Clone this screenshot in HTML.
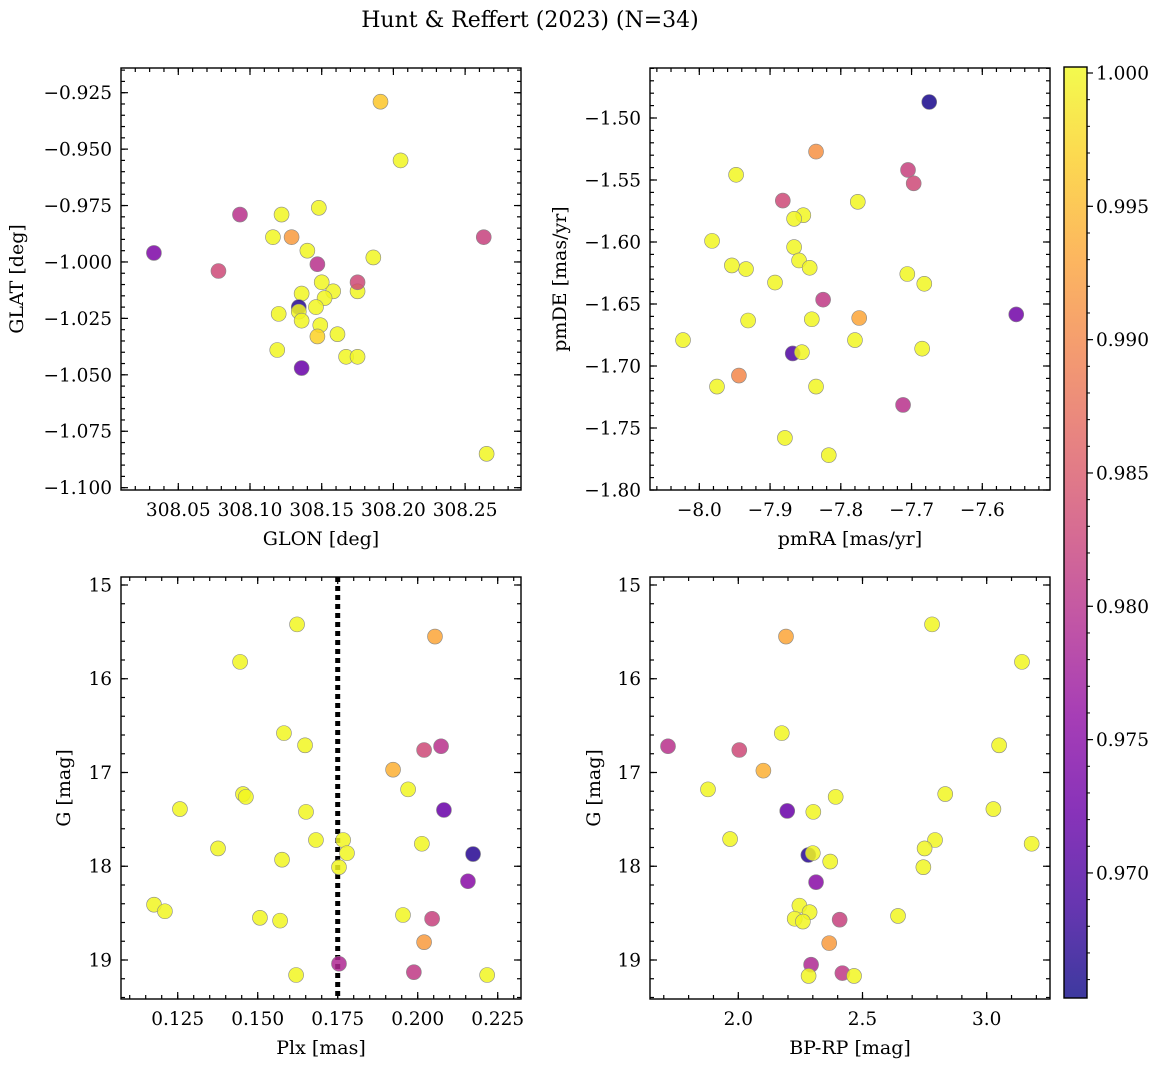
<!DOCTYPE html>
<html><head><meta charset="utf-8"><style>
html,body{margin:0;padding:0;background:#fff;}
svg{display:block;font-family:"DejaVu Serif","Liberation Serif",serif;}
</style></head><body>
<svg id="fig" width="1161" height="1067" viewBox="0 0 1161 1067" xmlns="http://www.w3.org/2000/svg">
<defs>
<linearGradient id="plasma" x1="0" y1="1" x2="0" y2="0">
<stop offset="0" stop-color="#0d0887"/><stop offset="0.1" stop-color="#41049d"/><stop offset="0.2" stop-color="#6a00a8"/><stop offset="0.3" stop-color="#8f0da4"/><stop offset="0.4" stop-color="#b12a90"/><stop offset="0.5" stop-color="#cc4778"/><stop offset="0.6" stop-color="#e16462"/><stop offset="0.7" stop-color="#f2844b"/><stop offset="0.8" stop-color="#fca636"/><stop offset="0.9" stop-color="#fcce25"/><stop offset="1" stop-color="#f0f921"/>
</linearGradient>
</defs>
<text x="530" y="27" font-size="22" text-anchor="middle">Hunt &amp; Reffert (2023) (N=34)</text>
</svg>
<script>
// ---- data ----
const glon = [308.191,308.205,308.033,308.093,308.122,308.148,308.116,308.129,308.140,308.078,308.263,308.147,308.186,308.136,308.158,308.150,308.152,308.175,308.175,308.134,308.134,308.120,308.136,308.146,308.149,308.161,308.147,308.119,308.167,308.175,308.136,308.265];
const glat = [-0.929,-0.955,-0.996,-0.979,-0.979,-0.976,-0.989,-0.989,-0.995,-1.004,-0.989,-1.001,-0.998,-1.014,-1.013,-1.009,-1.016,-1.013,-1.009,-1.020,-1.022,-1.023,-1.026,-1.020,-1.028,-1.032,-1.033,-1.039,-1.042,-1.042,-1.047,-1.085];
const probA = [0.996,1,0.974,0.980,1,1,1,0.992,1,0.983,0.982,0.980,1,1,1,1,1,1,0.983,0.967,1,1,1,1,1,1,0.997,1,1,1,0.972,1];

const pmra = [-7.675,-7.835,-7.705,-7.697,-7.948,-7.882,-7.776,-7.853,-7.866,-7.982,-7.866,-7.859,-7.934,-7.954,-7.844,-7.706,-7.682,-7.893,-7.825,-7.931,-7.841,-7.774,-8.023,-7.780,-7.868,-7.855,-7.685,-7.944,-7.975,-7.835,-7.712,-7.879,-7.817,-7.552];
const pmde = [-1.4871,-1.5271,-1.5419,-1.5527,-1.5458,-1.5666,-1.5676,-1.5784,-1.5813,-1.5991,-1.6041,-1.6149,-1.6218,-1.6189,-1.6208,-1.6258,-1.6337,-1.6327,-1.6465,-1.6633,-1.6623,-1.6613,-1.6791,-1.6791,-1.6899,-1.6889,-1.6860,-1.7077,-1.7166,-1.7166,-1.7314,-1.7580,-1.7719,-1.6584];
const probB = [0.966,0.991,0.982,0.983,1,0.983,1,1,1,1,1,1,1,1,1,1,1,1,0.981,1,1,0.993,1,1,0.970,1,1,0.990,1,1,0.980,1,1,0.973];

const plx = [0.1623,0.2054,0.1445,0.1582,0.1648,0.2073,0.2020,0.1923,0.1454,0.1463,0.1970,0.1257,0.1651,0.2082,0.1767,0.1682,0.1376,0.1779,0.2013,0.2173,0.1576,0.1754,0.2157,0.1176,0.1210,0.1507,0.1570,0.1954,0.2045,0.2020,0.1754,0.1988,0.1620,0.2217];
const gmagC = [15.42,15.55,15.82,16.58,16.71,16.72,16.76,16.97,17.23,17.26,17.18,17.39,17.42,17.40,17.72,17.72,17.81,17.86,17.76,17.87,17.93,18.01,18.16,18.41,18.48,18.55,18.58,18.52,18.56,18.81,19.04,19.13,19.16,19.16];
const probC = [1,0.993,1,1,1,0.980,0.983,0.994,1,1,1,1,1,0.972,1,1,1,1,1,0.967,1,1,0.975,1,1,1,1,1,0.982,0.992,0.979,0.981,1,1];

const bprp = [2.780,2.192,3.142,1.717,2.004,2.175,2.101,1.878,2.392,2.197,2.302,1.967,2.833,3.050,3.027,2.792,2.750,3.181,2.745,2.282,2.300,2.370,2.313,2.246,2.287,2.227,2.260,2.643,2.408,2.366,2.293,2.419,2.283,2.466];
const gmagD = [15.42,15.55,15.82,16.72,16.76,16.58,16.98,17.18,17.26,17.41,17.42,17.71,17.23,16.71,17.39,17.72,17.81,17.76,18.01,17.88,17.86,17.95,18.17,18.42,18.49,18.56,18.59,18.53,18.57,18.82,19.05,19.14,19.17,19.17];
const probD = [1,0.993,1,0.980,0.983,1,0.994,1,1,0.972,1,1,1,1,1,1,1,1,1,0.967,1,1,0.975,1,1,1,1,1,0.982,0.992,0.979,0.981,1,1];

const cbTicks = [1.000,0.995,0.990,0.985,0.980,0.975,0.970];
const plxCut = [0.175];

// ---- rendering ----
const NS = "http://www.w3.org/2000/svg";
const svg = document.getElementById('fig');
const FS = 18.5, LFS = 19;
function mk(tag, attrs, parent){const e=document.createElementNS(NS,tag);for(const k in attrs)e.setAttribute(k,attrs[k]);(parent||svg).appendChild(e);return e;}
const VMIN=0.96531, VMAX=1.000225;
const stops=[[13,8,135],[65,4,157],[106,0,168],[143,13,164],[177,42,144],[204,71,120],[225,100,98],[242,132,75],[252,166,54],[252,206,37],[240,249,33]];
function cmap(v){let t=(v-VMIN)/(VMAX-VMIN);t=Math.max(0,Math.min(1,t))*10;const i=Math.min(9,Math.floor(t)),f=t-i;const a=stops[i],b=stops[i+1];return `rgb(${a.map((c,k)=>Math.round(c+(b[k]-c)*f)).join(',')})`;}
function lin(d0,d1,r0,r1){return v=>r0+(v-d0)/(d1-d0)*(r1-r0);}
function fmt(v,dec){return (v<0?'\u2212':'')+Math.abs(v).toFixed(dec);}

function panel(o){
  const g=mk('g',{});
  
  
  const X=lin(o.xd[0],o.xd[1],o.L,o.R), Y=lin(o.yd[0],o.yd[1],o.T,o.B);
  const tk=mk('g',{stroke:'#000','stroke-width':1.2},g);
  
  
  const lo=Math.min(o.xd[0],o.xd[1]),hi=Math.max(o.xd[0],o.xd[1]);
  for(let k=Math.ceil(lo/o.xminor-1e-6);k*o.xminor<=hi+1e-9;k++){const x=X(k*o.xminor);mk('line',{x1:x,x2:x,y1:o.B,y2:o.B-4},tk);mk('line',{x1:x,x2:x,y1:o.T,y2:o.T+4},tk);}
  const ylo=Math.min(o.yd[0],o.yd[1]),yhi=Math.max(o.yd[0],o.yd[1]);
  for(let k=Math.ceil(ylo/o.yminor-1e-6);k*o.yminor<=yhi+1e-9;k++){const y=Y(k*o.yminor);mk('line',{x1:o.L,x2:o.L+4,y1:y,y2:y},tk);mk('line',{x1:o.R,x2:o.R-4,y1:y,y2:y},tk);}
  o.xt.forEach(v=>{const x=X(v);mk('line',{x1:x,x2:x,y1:o.B,y2:o.B-7},tk);mk('line',{x1:x,x2:x,y1:o.T,y2:o.T+7},tk);
    const t=mk('text',{x:x,y:o.B+26,'font-size':FS,'text-anchor':'middle'},g);t.textContent=fmt(v,o.xdec);
    });
  o.yt.forEach(v=>{const y=Y(v);mk('line',{x1:o.L,x2:o.L+7,y1:y,y2:y},tk);mk('line',{x1:o.R,x2:o.R-7,y1:y,y2:y},tk);
    const t=mk('text',{x:o.L-9,y:y+6.5,'font-size':FS,'text-anchor':'end'},g);t.textContent=fmt(v,o.ydec);
    });
  if(o.vline){o.vline.forEach(v=>{const l=mk('line',{x1:X(v),x2:X(v),y1:o.T,y2:o.B,stroke:'#000','stroke-width':5,'stroke-dasharray':'5,4'},g);
    });}
  o.xs.forEach((xv,i)=>{const c=mk('circle',{cx:X(xv),cy:Y(o.ys[i]),r:7.5,fill:cmap(o.p[i]),'fill-opacity':0.85,stroke:'#888','stroke-width':0.6},g);
    });
  const fr=mk('rect',{x:o.L,y:o.T,width:o.R-o.L,height:o.B-o.T,fill:'none',stroke:'#000','stroke-width':1.4},g);
  
  const xl=mk('text',{x:(o.L+o.R)/2,y:o.B+55,'font-size':LFS,'text-anchor':'middle'},g);xl.textContent=o.xlab;
  
  const yl=mk('text',{x:0,y:0,'font-size':LFS,'text-anchor':'middle',transform:`translate(${o.ylx},${(o.T+o.B)/2}) rotate(-90)`},g);yl.textContent=o.ylab;
  
}

panel({name:'glon-glat-panel',L:121,R:521,T:68,B:490,xd:[308.01004,308.28898],yd:[-0.91406,-1.10103],
  xt:[308.05,308.10,308.15,308.20,308.25],xdec:2,yt:[-0.925,-0.95,-0.975,-1.0,-1.025,-1.05,-1.075,-1.1],ydec:3,
  xminor:0.01,yminor:0.005,xs:glon,ys:glat,p:probA,xlab:'GLON [deg]',ylab:'GLAT [deg]',ylx:23});
panel({name:'proper-motion-panel',L:650,R:1050,T:68,B:490,xd:[-8.0697,-7.5043],yd:[-1.45968,-1.8],
  xt:[-8.0,-7.9,-7.8,-7.7,-7.6],xdec:1,yt:[-1.5,-1.55,-1.6,-1.65,-1.7,-1.75,-1.8],ydec:2,
  xminor:0.02,yminor:0.01,xs:pmra,ys:pmde,p:probB,xlab:'pmRA [mas/yr]',ylab:'pmDE [mas/yr]',ylx:566});
panel({name:'parallax-mag-panel',L:121,R:521,T:577,B:999,xd:[0.10728,0.23228],yd:[14.9147,19.416],
  xt:[0.125,0.15,0.175,0.2,0.225],xdec:3,yt:[15,16,17,18,19],ydec:0,
  xminor:0.005,yminor:0.2,xs:plx,ys:gmagC,p:probC,xlab:'Plx [mas]',ylab:'G [mag]',ylx:70,vline:plxCut});
panel({name:'cmd-panel',L:650,R:1050,T:577,B:999,xd:[1.64452,3.25483],yd:[14.9147,19.416],
  xt:[2.0,2.5,3.0],xdec:1,yt:[15,16,17,18,19],ydec:0,
  xminor:0.1,yminor:0.2,xs:bprp,ys:gmagD,p:probD,xlab:'BP-RP [mag]',ylab:'G [mag]',ylx:600});

// colorbar
const cb=mk('g',{});


const CT=67,CB=998,CL=1064,CR=1087;
const CY=lin(VMAX,VMIN,CT,CB);
const cr=mk('rect',{x:CL,y:CT,width:CR-CL,height:CB-CT,fill:'url(#plasma)','fill-opacity':0.8},cb);

for(let k=Math.ceil(VMIN/0.001);k*0.001<=VMAX;k++){const y=CY(k*0.001);mk('line',{x1:CR,x2:CR+3,y1:y,y2:y,stroke:'#000','stroke-width':1},cb);}
cbTicks.forEach(v=>{const y=CY(v);mk('line',{x1:CR,x2:CR+6,y1:y,y2:y,stroke:'#000','stroke-width':1.2},cb);
  const t=mk('text',{x:CR+9,y:y+6.5,'font-size':FS},cb);t.textContent=v.toFixed(3);
  });
const cf=mk('rect',{x:CL,y:CT,width:CR-CL,height:CB-CT,fill:'none',stroke:'#000','stroke-width':1.4},cb);

</script>
</body></html>
